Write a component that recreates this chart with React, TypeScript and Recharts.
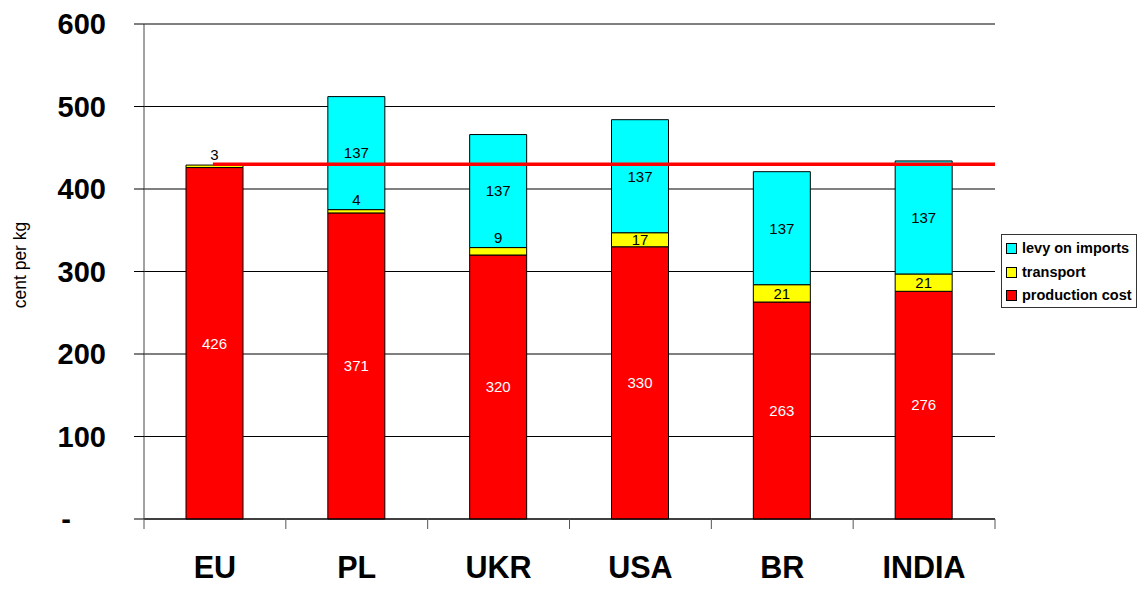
import React from 'react';
import { BarChart, Bar, XAxis, YAxis, CartesianGrid, ReferenceLine, LabelList } from 'recharts';

const categories = ['EU', 'PL', 'UKR', 'USA', 'BR', 'INDIA'];
const productionCost = [426, 371, 320, 330, 263, 276];
const transportCost = [3, 4, 9, 17, 21, 21];
const levyOnImports = [0, 137, 137, 137, 137, 137];
const yTicks = [0, 100, 200, 300, 400, 500, 600];
const referencePrice = 430;

const data = categories.map((c, i) => ({
  cat: c,
  production: productionCost[i],
  transport: transportCost[i],
  levy: levyOnImports[i],
}));

const FONT = "Arial, 'Liberation Sans', sans-serif";
const W = 1145;
const H = 590;
const AXIS_Y = 519;

const XTick = (props: any) => {
  const { x, payload } = props;
  const half = payload && payload.offset ? payload.offset : 70.9;
  const isLast = payload && payload.index === categories.length - 1;
  return (
    <g>
      <line x1={x - half} y1={AXIS_Y} x2={x - half} y2={AXIS_Y + 10} stroke="#555" strokeWidth={1} />
      {isLast && <line x1={x + half} y1={AXIS_Y} x2={x + half} y2={AXIS_Y + 10} stroke="#555" strokeWidth={1} />}
      <text x={x} y={578} textAnchor="middle" fontFamily={FONT} fontWeight="bold" fontSize={30.5} fill="#000">
        {payload.value}
      </text>
    </g>
  );
};

const YTick = (props: any) => {
  const { x, y, payload } = props;
  if (payload.value === 0) {
    return (
      <text x={66} y={y} dy="0.355em" textAnchor="middle" fontFamily={FONT} fontWeight="bold" fontSize={29} fill="#000">
        -
      </text>
    );
  }
  return (
    <text x={x} y={y} dy="0.355em" textAnchor="end" fontFamily={FONT} fontWeight="bold" fontSize={29} fill="#000">
      {payload.value}
    </text>
  );
};

const makeLabel = (color: string, liftSmall: boolean) => (props: any) => {
  const { x, y, width, height, value } = props;
  if (!value) return null;
  const h = Math.abs(height);
  const top = Math.min(y, y + height);
  let cy = top + h / 2;
  if (liftSmall && h < 12) cy = top - 10;
  return (
    <text x={x + width / 2} y={cy} dy="0.355em" textAnchor="middle" fontFamily={FONT} fontSize={15} fill={color}>
      {value}
    </text>
  );
};

const legendItems = [
  { label: 'levy on imports', color: '#00FFFF' },
  { label: 'transport', color: '#FFFF00' },
  { label: 'production cost', color: '#FF0000' },
];

export default function App() {
  return (
    <div style={{ position: 'relative', width: W, height: H, margin: -8, overflow: 'hidden' }}>
      <BarChart
        width={W}
        height={H}
        data={data}
        margin={{ top: 24, right: 150, bottom: 0, left: 0 }}
        barSize={57}
      >
        <CartesianGrid vertical={false} stroke="#000" strokeWidth={1} />
        <XAxis
          dataKey="cat"
          height={71}
          tickLine={false}
          axisLine={{ stroke: '#000' }}
          tick={<XTick />}
          interval={0}
        />
        <YAxis
          width={144}
          domain={[0, 600]}
          ticks={yTicks}
          tickSize={10}
          tickMargin={28}
          tickLine={{ stroke: '#000' }}
          axisLine={{ stroke: '#444' }}
          tick={<YTick />}
          label={{
            content: () => (
              <text
                x={20}
                y={265}
                transform="rotate(-90 20 265)"
                textAnchor="middle"
                dominantBaseline="central"
                fontFamily={FONT}
                fontSize={17.5}
                fill="#000"
              >
                cent per kg
              </text>
            ),
          }}
        />
        <YAxis yAxisId="right" orientation="right" width={0} tick={false} tickLine={false} axisLine={{ stroke: '#999' }} domain={[0, 600]} />
        <Bar dataKey="production" stackId="a" fill="#FF0000" stroke="#000" strokeWidth={1} isAnimationActive={false}>
          <LabelList dataKey="production" content={makeLabel('#fff', false)} />
        </Bar>
        <Bar dataKey="transport" stackId="a" fill="#FFFF00" stroke="#000" strokeWidth={1} isAnimationActive={false}>
          <LabelList dataKey="transport" content={makeLabel('#000', true)} />
        </Bar>
        <Bar dataKey="levy" stackId="a" fill="#00FFFF" stroke="#000" strokeWidth={1} isAnimationActive={false}>
          <LabelList dataKey="levy" content={makeLabel('#000', false)} />
        </Bar>
        <ReferenceLine
          y={referencePrice}
          stroke="#FF0000"
          strokeWidth={3.5}
          shape={(p: any) => {
            const x1 = p.x1 + (p.x2 - p.x1) / (2 * categories.length) - 2;
            return <line x1={x1} y1={p.y1} x2={p.x2} y2={p.y2} stroke="#FF0000" strokeWidth={3.5} />;
          }}
        />
      </BarChart>
      <div
        style={{
          position: 'absolute',
          left: 1001,
          top: 234,
          width: 134,
          height: 72,
          border: '1px solid #333',
          background: '#fff',
          fontFamily: FONT,
          fontWeight: 'bold',
          fontSize: 14.5,
          boxSizing: 'content-box',
        }}
      >
        {legendItems.map((it, i) => (
          <div key={it.label} style={{ position: 'absolute', left: 4, top: 5 + i * 23.5, display: 'flex', alignItems: 'center', whiteSpace: 'nowrap', lineHeight: '17px' }}>
            <span style={{ display: 'inline-block', width: 9, height: 9, background: it.color, border: '1px solid #000', marginRight: 5 }} />
            <span>{it.label}</span>
          </div>
        ))}
      </div>
    </div>
  );
}
